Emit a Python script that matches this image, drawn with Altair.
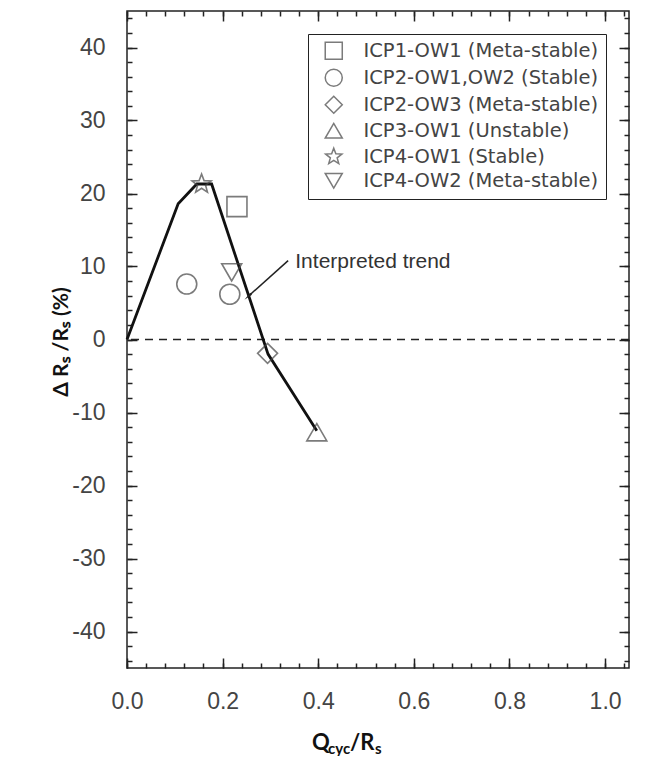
import math
import altair as alt
import pandas as pd

# ---------------- data ----------------
series_names = [
    "ICP1-OW1 (Meta-stable)",
    "ICP2-OW1,OW2 (Stable)",
    "ICP2-OW3 (Meta-stable)",
    "ICP3-OW1 (Unstable)",
    "ICP4-OW1 (Stable)",
    "ICP4-OW2 (Meta-stable)",
]
point_series = [0, 1, 1, 2, 3, 4, 5]
point_x = [0.230, 0.125, 0.215, 0.294, 0.397, 0.156, 0.219]
point_y = [18.2, 7.6, 6.2, -1.9, -12.7, 21.3, 9.2]

trend_x = [0.0, 0.107, 0.146, 0.177, 0.295, 0.397]
trend_y = [0.0, 18.6, 21.3, 21.3, -2.0, -12.5]

arrow_x = [0.337, 0.255]
arrow_y = [10.8, 6.0]

note_text = ["Interpreted trend"]
note_x = [0.352]
note_y = [10.6]

zero_level = [0]

x_tick_values = [0.0, 0.2, 0.4, 0.6, 0.8, 1.0]
y_tick_values = [-40, -30, -20, -10, 0, 10, 20, 30, 40]
x_minor_values = [round(i * 0.04, 2) for i in range(27)]
y_minor_values = [v for v in range(-44, 45, 2)]

# ---------------- styling helpers ----------------
star_pts = []
for i in range(10):
    r = 1.0 if i % 2 == 0 else 0.42
    a = -math.pi / 2 + i * math.pi / 5
    star_pts.append(f"{r * math.cos(a):.3f},{r * math.sin(a):.3f}")
star_path = "M" + "L".join(star_pts) + "Z"
shape_range = ["square", "circle", "diamond", "triangle-up", star_path, "triangle-down"]

W, H = 502, 657
xs = alt.Scale(domain=[0, 1.05], nice=False, zero=False)
ys = alt.Scale(domain=[-45, 45], nice=False, zero=False)

LABEL_FONT = "Liberation Sans"


def ax_label(orient, values, expr):
    return alt.Axis(orient=orient, values=values, labelExpr=expr, ticks=False, tickSize=0,
                    domain=False, grid=False, title=None, labelFont=LABEL_FONT,
                    labelFontSize=23, labelColor="#444", labelPadding=22,
                    labelFlush=False, labelOverlap=False)


def ax_ticks(orient, values, size):
    return alt.Axis(orient=orient, values=values, labels=False, ticks=True, tickSize=size,
                    tickColor="#222", tickWidth=1.5, offset=-size, domain=False,
                    grid=False, title=None)


# ---------------- frames ----------------
trend_df = pd.DataFrame({"x": trend_x, "y": trend_y})
points_df = pd.DataFrame({"x": point_x, "y": point_y,
                          "series": [series_names[i] for i in point_series]})
arrow_df = pd.DataFrame({"x": arrow_x, "y": arrow_y})
head_df = pd.DataFrame({"x": arrow_x[-1:], "y": arrow_y[-1:]})
note_df = pd.DataFrame({"x": note_x, "y": note_y, "t": note_text})
zero_df = pd.DataFrame({"y": zero_level})

# ---------------- layers ----------------
zero_rule = alt.Chart(zero_df).mark_rule(color="#222", strokeWidth=1.5, strokeDash=[8, 6]).encode(
    y=alt.Y("y:Q", scale=ys, axis=None)
)

trend = alt.Chart(trend_df).mark_line(color="#111", strokeWidth=2.8).encode(
    x=alt.X("x:Q", scale=xs, axis=ax_label("bottom", x_tick_values, "format(datum.value, '.1f')")),
    y=alt.Y("y:Q", scale=ys, axis=ax_label("left", y_tick_values, "'' + datum.value")),
)

points = alt.Chart(points_df).mark_point(filled=False, size=400, strokeWidth=1.6, color="#444").encode(
    x=alt.X("x:Q", scale=xs, axis=ax_ticks("bottom", x_tick_values, 10)),
    y=alt.Y("y:Q", scale=ys, axis=ax_ticks("left", y_tick_values, 10)),
    shape=alt.Shape("series:N", scale=alt.Scale(domain=series_names, range=shape_range),
                    legend=alt.Legend(title=None, orient="none", legendX=181, legendY=23,
                                      strokeColor="#222", padding=7, symbolOffset=9,
                                      labelOffset=20, rowPadding=3, symbolSize=290,
                                      symbolStrokeWidth=1.5, symbolStrokeColor="#444",
                                      symbolFillColor="transparent",
                                      labelFont="DejaVu Sans", labelFontSize=19.5,
                                      labelColor="#444", labelLimit=400)),
)

arrow = alt.Chart(arrow_df).mark_line(color="#222", strokeWidth=1.5).encode(
    x=alt.X("x:Q", scale=xs, axis=ax_ticks("bottom", x_minor_values, 5)),
    y=alt.Y("y:Q", scale=ys, axis=ax_ticks("left", y_minor_values, 5)),
)

head = alt.Chart(head_df).mark_point(shape="wedge", filled=True, size=110, angle=228, color="#222", opacity=1).encode(
    x=alt.X("x:Q", scale=xs, axis=ax_ticks("top", x_minor_values, 5)),
    y=alt.Y("y:Q", scale=ys, axis=ax_ticks("right", y_minor_values, 5)),
)

note = alt.Chart(note_df).mark_text(align="left", baseline="middle", font=LABEL_FONT,
                                    fontSize=21, color="#333").encode(
    x=alt.X("x:Q", scale=xs, axis=ax_ticks("top", x_tick_values, 10)),
    y=alt.Y("y:Q", scale=ys, axis=ax_ticks("right", y_tick_values, 10)),
    text="t:N",
)

one = alt.Data(values=[{}])
TF = "Lato"
xt_q = alt.Chart(one).mark_text(text="Q", align="left", baseline="alphabetic", font=TF,
                                fontWeight="bold", fontSize=22, color="#111").encode(
    x=alt.value(185), y=alt.value(739))
xt_cyc = alt.Chart(one).mark_text(text="cyc", align="left", baseline="alphabetic", font=TF,
                                  fontWeight="bold", fontSize=15, color="#111").encode(
    x=alt.value(201), y=alt.value(743))
xt_r = alt.Chart(one).mark_text(text="/R", align="left", baseline="alphabetic", font=TF,
                                fontWeight="bold", fontSize=22, color="#111").encode(
    x=alt.value(223), y=alt.value(739))
xt_s = alt.Chart(one).mark_text(text="s", align="left", baseline="alphabetic", font=TF,
                                fontWeight="bold", fontSize=15, color="#111").encode(
    x=alt.value(248), y=alt.value(743))
yt = alt.Chart(one).mark_text(text="\u0394 R\u209b /R\u209b (%)", angle=270, align="center",
                              baseline="middle", font=TF, fontWeight="bold", fontSize=21,
                              color="#111").encode(x=alt.value(-65), y=alt.value(331))

chart = alt.layer(
    zero_rule, trend, points, arrow, head, note, xt_q, xt_cyc, xt_r, xt_s, yt
).resolve_axis(x="independent", y="independent").properties(
    width=W, height=H,
    autosize=alt.AutoSizeParams(type="none"),
    padding={"left": 119, "top": 3, "right": 10, "bottom": 88},
).configure_view(stroke="#222", strokeWidth=1.5)

chart.save("out.html", embed_options={"renderer": "svg", "actions": False})
